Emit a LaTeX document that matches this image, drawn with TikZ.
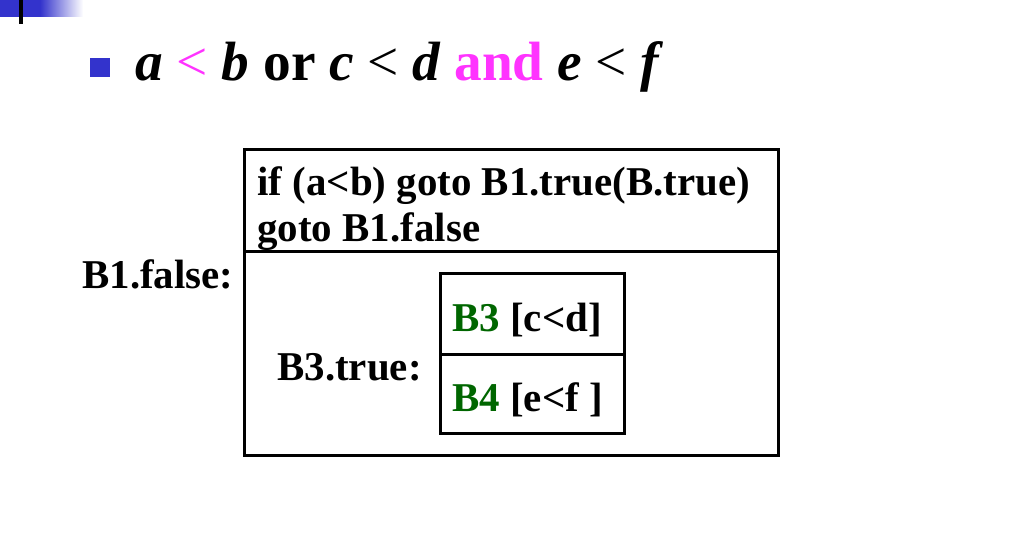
\documentclass[tikz,border=0pt]{standalone}
\usepackage{fontspec}
\setmainfont{Liberation Serif}
\definecolor{azul}{RGB}{51,51,204}
\definecolor{verde}{RGB}{0,102,0}
\definecolor{rosa}{RGB}{255,51,255}
\tikzset{
  caja/.style={draw,line width=0.06cm,inner sep=0pt,outer sep=0pt},
  texto/.style={anchor=base west,inner sep=0pt,font=\fontsize{23.3}{26}\selectfont\bfseries}
}
\begin{document}
\begin{tikzpicture}[x=0.02cm,y=-0.02cm]
        \useasboundingbox (0,0) rectangle (1023,540);

        % Barra superior
        \fill[azul] (0,0) rectangle (40,17);
        \shade[left color=azul,right color=white] (40,0) rectangle (83,17);
        \draw[line width=0.08cm] (20.5,0) -- (20.5,24);

        % Titulo
        \fill[azul] (90,58) rectangle (110,77);
        \node[anchor=base west,inner sep=0pt,font=\fontsize{31.5}{38}\selectfont] (titulo) at (135,81)
          {{\bfseries\itshape a} \textcolor{rosa}{<} {\bfseries\itshape b} \textbf{or} {\bfseries\itshape c} < {\bfseries\itshape d} \textcolor{rosa}{\bfseries and} {\bfseries\itshape e} < {\bfseries\itshape f}};

        % Caja exterior
        \node[caja,minimum width=10.68cm,minimum height=2.04cm] (cond) at (511.5,200.5) {};
        \node[caja,minimum width=10.68cm,minimum height=4.09cm,anchor=north] (cuerpo) at (cond.south) {};

        % Caja interior
        \node[caja,minimum width=3.7cm,minimum height=1.64cm] (bt) at (532.5,314) {};
        \node[caja,minimum width=3.7cm,minimum height=1.58cm,anchor=north] (bc) at (bt.south) {};

        % Textos
        \node[texto] (l1) at (257,196) {if (a<b) goto B1.true(B.true)};
        \node[texto] (l2) at (257,242) {goto B1.false};
        \node[texto] (falso) at (82,288) {B1.false:};
        \node[texto] (verdad) at (277,380) {B3.true:};
        \node[texto] (tres) at (452,331) {\textcolor{verde}{B3} [c<d]};
        \node[texto] (cuatro) at (452,411) {\textcolor{verde}{B4} [e<f ]};
    \end{tikzpicture}
\end{document}
